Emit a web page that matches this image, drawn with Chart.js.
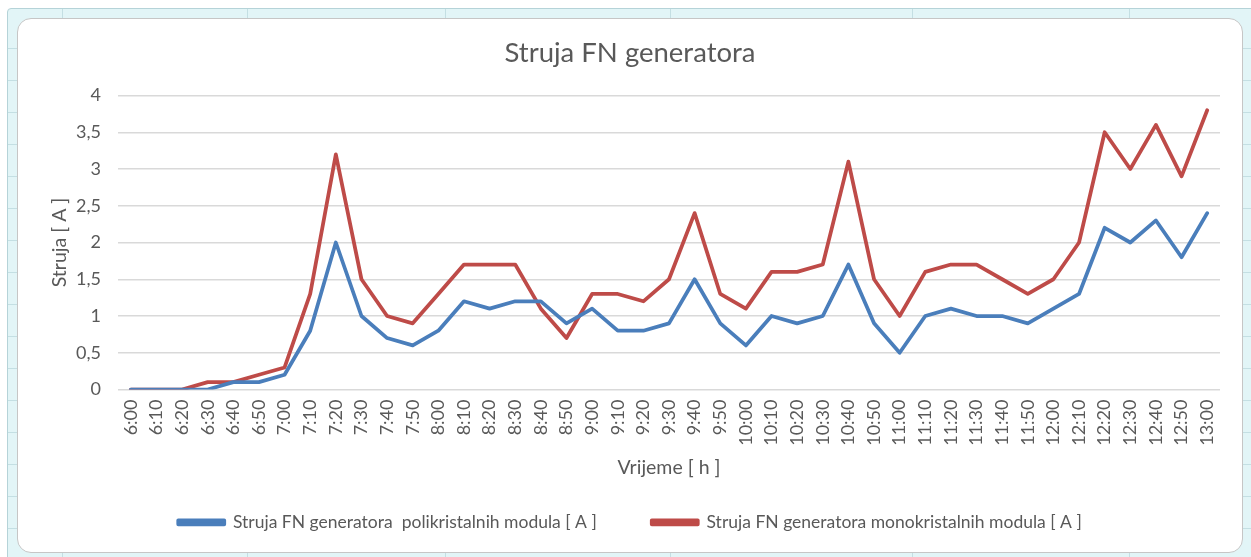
<!DOCTYPE html>
<html>
<head>
<meta charset="utf-8">
<script src="https://cdn.jsdelivr.net/npm/chart.js@4.4.1/dist/chart.umd.min.js"></script>
<style>
  html, body { margin: 0; padding: 0; background: #ffffff; width: 1251px; height: 557px; overflow: hidden; }
  #frame { position: absolute; left: 7px; top: 8px; width: 1250px; height: 560px; background: #e2f5f7; border: 1px solid #b5d3d8; border-radius: 4px 4px 0 0; box-sizing: border-box; }
  .vl { position: absolute; width: 1px; background: #c4dfe3; }
  .hl { position: absolute; height: 1px; background: #c4dfe3; }
  #inner { position: absolute; left: 17px; top: 18px; width: 1226px; height: 535px; background: #ffffff; border: 1px solid #c6c6c6; border-radius: 14px; box-sizing: border-box; }
  #wrap { position: absolute; left: 0; top: 0; width: 1251px; height: 557px; }
</style>
</head>
<body>
<div id="frame"></div>
<div id="deco"></div>
<div id="inner"></div>
<div id="wrap"><canvas id="c" width="1251" height="557"></canvas></div>
<script>
// ---- data ----
const categories = ["6:00","6:10","6:20","6:30","6:40","6:50","7:00","7:10","7:20","7:30","7:40","7:50",
  "8:00","8:10","8:20","8:30","8:40","8:50","9:00","9:10","9:20","9:30","9:40","9:50",
  "10:00","10:10","10:20","10:30","10:40","10:50","11:00","11:10","11:20","11:30","11:40","11:50",
  "12:00","12:10","12:20","12:30","12:40","12:50","13:00"];
const polyValues = [0,0,0,0,0.1,0.1,0.2,0.8,2.0,1.0,0.7,0.6,
  0.8,1.2,1.1,1.2,1.2,0.9,1.1,0.8,0.8,0.9,1.5,0.9,
  0.6,1.0,0.9,1.0,1.7,0.9,0.5,1.0,1.1,1.0,1.0,0.9,
  1.1,1.3,2.2,2.0,2.3,1.8,2.4];
const monoValues = [0,0,0,0.1,0.1,0.2,0.3,1.3,3.2,1.5,1.0,0.9,
  1.3,1.7,1.7,1.7,1.1,0.7,1.3,1.3,1.2,1.5,2.4,1.3,
  1.1,1.6,1.6,1.7,3.1,1.5,1.0,1.6,1.7,1.7,1.5,1.3,
  1.5,2.0,3.5,3.0,3.6,2.9,3.8];
const seriesNames = ["Struja FN generatora  polikristalnih modula [ A ]", "Struja FN generatora monokristalnih modula [ A ]"];
const yTicks = [0, 0.5, 1, 1.5, 2, 2.5, 3, 3.5, 4];
const chartTitle = "Struja FN generatora";
const xTitle = "Vrijeme [ h ]";
const yTitle = "Struja [ A ]";

// ---- decoration (Excel frame cells) ----
const deco = document.getElementById('deco');
[62, 247, 445, 670, 912, 1129].forEach(x => {
  const t = document.createElement('div'); t.className = 'vl';
  t.style.left = x + 'px'; t.style.top = '9px'; t.style.height = '9px'; deco.appendChild(t);
  const b = document.createElement('div'); b.className = 'vl';
  b.style.left = x + 'px'; b.style.top = '553px'; b.style.height = '4px'; deco.appendChild(b);
});
for (let y = 48; y <= 540; y += 32) {
  const l = document.createElement('div'); l.className = 'hl';
  l.style.left = '8px'; l.style.top = y + 'px'; l.style.width = '9px'; deco.appendChild(l);
  const r = document.createElement('div'); r.className = 'hl';
  r.style.left = '1243px'; r.style.top = y + 'px'; r.style.width = '8px'; deco.appendChild(r);
}

const TEXT = '#595959';
const FONT = "Lato, 'Open Sans', sans-serif";

new Chart(document.getElementById('c'), {
  type: 'line',
  data: {
    labels: categories,
    datasets: [
      { label: seriesNames[0], data: polyValues, borderColor: '#4a7ebb', backgroundColor: '#4a7ebb',
        borderWidth: 3.75, pointRadius: 0, tension: 0, borderJoinStyle: 'round', borderCapStyle: 'round' },
      { label: seriesNames[1], data: monoValues, borderColor: '#be4b48', backgroundColor: '#be4b48',
        borderWidth: 3.75, pointRadius: 0, tension: 0, borderJoinStyle: 'round', borderCapStyle: 'round' }
    ]
  },
  options: {
    responsive: false,
    animation: false,
    devicePixelRatio: 1,
    layout: { padding: { left: 40, right: 31, top: 0, bottom: 16 } },
    plugins: {
      title: { display: true, text: chartTitle, color: TEXT,
        font: { family: FONT, size: 27.5, weight: 'normal' }, padding: { top: 36.5, bottom: 26 } },
      legend: { position: 'bottom',
        labels: { color: TEXT, font: { family: FONT, size: 17.5 }, boxWidth: 46, boxHeight: 4, padding: 55 } },
      tooltip: { enabled: false }
    },
    scales: {
      x: {
        offset: true,
        grid: { display: false, drawTicks: false },
        border: { display: false },
        ticks: { color: TEXT, font: { family: FONT, size: 18 }, minRotation: 90, maxRotation: 90, padding: 10, autoSkip: false },
        title: { display: true, text: xTitle, color: TEXT, font: { family: FONT, size: 19.5 }, padding: { top: 0, bottom: -21 } },
        afterFit: s => { s.height = 69; }
      },
      y: {
        min: 0, max: 4,
        afterBuildTicks: s => { s.ticks = yTicks.map(v => ({ value: v })); },
        grid: { color: '#d9d9d9', lineWidth: 1.5, drawTicks: false },
        border: { display: false },
        ticks: { color: TEXT, font: { family: FONT, size: 18 }, padding: 17,
          callback: v => String(v).replace('.', ',') },
        title: { display: true, text: yTitle, color: TEXT, font: { family: FONT, size: 19.5 }, padding: { top: 8, bottom: 0 } },
        afterFit: s => { s.width = 78; }
      }
    }
  }
});
</script>
</body>
</html>
